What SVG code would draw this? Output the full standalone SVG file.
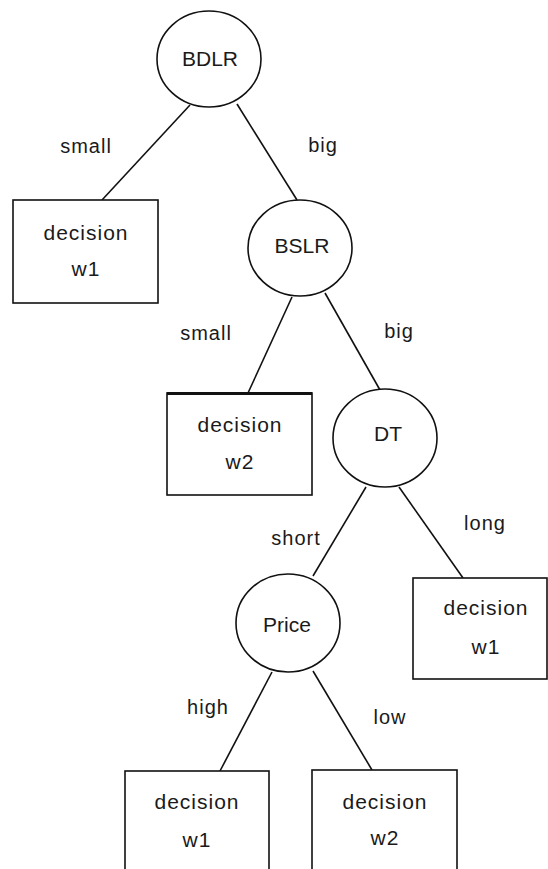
<svg xmlns="http://www.w3.org/2000/svg" width="548" height="869" viewBox="0 0 548 869">
  <style>
    .node { fill: #ffffff; stroke: #111111; stroke-width: 1.6; }
    .edge { stroke: #111111; stroke-width: 1.6; fill: none; }
    text { font-family: "Liberation Sans", Arial, sans-serif; fill: #1a1a1a; text-anchor: middle; }
    .lbl { font-size: 21px; }
    .nodetxt { font-size: 21px; letter-spacing: 1px; }
    .edgetxt { font-size: 20px; letter-spacing: 1px; }
  </style>
  <rect width="548" height="869" fill="#ffffff"/>

  <!-- connectors -->
  <g id="connectors">
    <line class="edge" x1="190" y1="105" x2="102" y2="200"/>
    <line class="edge" x1="237" y1="104" x2="297" y2="200"/>
    <line class="edge" x1="292" y1="297" x2="248" y2="393"/>
    <line class="edge" x1="325" y1="293" x2="380" y2="390"/>
    <line class="edge" x1="366" y1="487" x2="313" y2="576"/>
    <line class="edge" x1="399" y1="487" x2="463" y2="578"/>
    <line class="edge" x1="272" y1="672" x2="220" y2="771"/>
    <line class="edge" x1="313" y1="671" x2="372" y2="770"/>
    <text class="edgetxt" x="86" y="153">small</text>
    <text class="edgetxt" x="323" y="152">big</text>
    <text class="edgetxt" x="206" y="340">small</text>
    <text class="edgetxt" x="399" y="338">big</text>
    <text class="edgetxt" x="296" y="545">short</text>
    <text class="edgetxt" x="485" y="530">long</text>
    <text class="edgetxt" x="208" y="714">high</text>
    <text class="edgetxt" x="390" y="724">low</text>
  </g>

  <!-- decision nodes -->
  <g id="BDLR">
    <ellipse class="node" cx="209" cy="59" rx="52" ry="48"/>
    <text class="lbl" x="210" y="66">BDLR</text>
  </g>
  <g id="BSLR">
    <ellipse class="node" cx="300" cy="248" rx="52" ry="48"/>
    <text class="lbl" x="302" y="253">BSLR</text>
  </g>
  <g id="DT">
    <ellipse class="node" cx="385" cy="438" rx="52" ry="49"/>
    <text class="lbl" x="388" y="441">DT</text>
  </g>
  <g id="Price">
    <ellipse class="node" cx="288" cy="623" rx="52" ry="49"/>
    <text class="lbl" x="287" y="632">Price</text>
  </g>

  <!-- leaf nodes -->
  <g id="leaf-small-w1">
    <rect class="node" x="13" y="200" width="145" height="103"/>
    <text class="nodetxt" x="86" y="240">decision</text>
    <text class="nodetxt" x="86" y="276">w1</text>
  </g>
  <g id="leaf-small-w2">
    <rect class="node" x="167" y="393" width="145" height="102"/>
    <line x1="167" y1="393.5" x2="312" y2="393.5" stroke="#111111" stroke-width="3"/>
    <text class="nodetxt" x="240" y="432">decision</text>
    <text class="nodetxt" x="240" y="469">w2</text>
  </g>
  <g id="leaf-long-w1">
    <rect class="node" x="413" y="578" width="134" height="101"/>
    <text class="nodetxt" x="486" y="615">decision</text>
    <text class="nodetxt" x="486" y="654">w1</text>
  </g>
  <g id="leaf-high-w1">
    <rect class="node" x="125" y="771" width="144" height="110"/>
    <text class="nodetxt" x="197" y="809">decision</text>
    <text class="nodetxt" x="197" y="847">w1</text>
  </g>
  <g id="leaf-low-w2">
    <rect class="node" x="312" y="770" width="145" height="110"/>
    <text class="nodetxt" x="385" y="809">decision</text>
    <text class="nodetxt" x="385" y="845">w2</text>
  </g>
</svg>
